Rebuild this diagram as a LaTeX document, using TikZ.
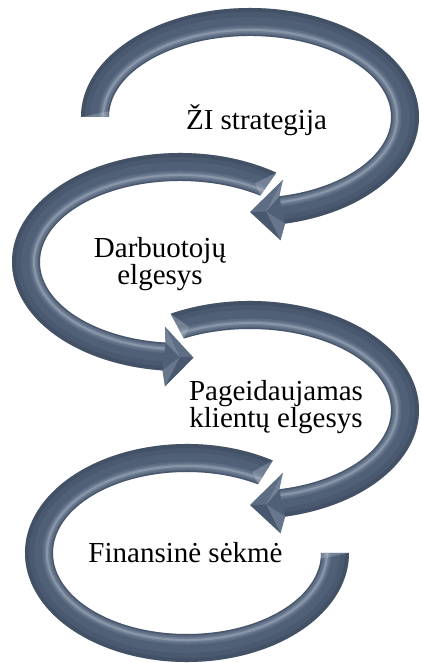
\documentclass[tikz,border=0pt]{standalone}
\usepackage{fontspec}
\setmainfont{Liberation Serif}
\definecolor{slatebody}{RGB}{80,96,119}
\definecolor{slaterim}{RGB}{48,59,76}
\definecolor{slateshine}{RGB}{196,208,222}
\tikzset{
  body/.style={fill=slatebody},
  rim/.style={draw=slaterim},
  shine/.style={draw=slateshine},
  lbl/.style={inner sep=0pt, font=\fontsize{29}{27}\selectfont, align=center, text=black},
}
% bevel shading of a ring band: #1 start angle, #2 end angle,
% #3/#4 radii of the band's centre line (band half width 14)
\newcommand\bandshading[4]{%
  \pgfmathsetmacro\ox{#3+14}\pgfmathsetmacro\oy{#4+14}%
  \pgfmathsetmacro\ix{#3-14}\pgfmathsetmacro\iy{#4-14}%
  \pgfmathsetmacro\hx{#3-8}\pgfmathsetmacro\hy{#4-8}%
  \draw[rim, line width=18pt, opacity=.18] (#1:\ox\space and \oy) arc[start angle=#1, end angle=#2, x radius=\ox, y radius=\oy];
  \draw[rim, line width=8pt, opacity=.25] (#1:\ox\space and \oy) arc[start angle=#1, end angle=#2, x radius=\ox, y radius=\oy];
  \draw[shine, line width=9pt, opacity=.12] (#1:\hx\space and \hy) arc[start angle=#1, end angle=#2, x radius=\hx, y radius=\hy];
  \draw[shine, line width=5pt, opacity=.18] (#1:\hx\space and \hy) arc[start angle=#1, end angle=#2, x radius=\hx, y radius=\hy];
  \draw[shine, line width=2pt, opacity=.3] (#1:\hx\space and \hy) arc[start angle=#1, end angle=#2, x radius=\hx, y radius=\hy];
  \draw[rim, line width=3pt, opacity=.25] (#1:\ix\space and \iy) arc[start angle=#1, end angle=#2, x radius=\ix, y radius=\iy];
}
\begin{document}
\begin{tikzpicture}[x=1pt, y=1pt]
\useasboundingbox (0,0) rectangle (422,663);

% ---------- arrow 1: strategy loop, clockwise, head at the bottom
\begin{scope}[shift={(250,546)}]
  \def\shapeA{(180:169 and 109) arc[start angle=180, end angle=-78, x radius=169, y radius=109]
    -- (-80.5:185 and 125) -- (-90:155 and 95) -- (-74.7:125 and 65) -- (-78:141 and 81)
    arc[start angle=-78, end angle=180, x radius=141, y radius=81] -- cycle}
  \begin{scope}
    \clip \shapeA;
    \fill[body] (-200,-140) rectangle (200,140);
    \bandshading{180}{-78}{155}{95}
    \fill[slateshine, opacity=.3] (-74.7:125 and 65) -- (-84:155 and 95) -- (-78:141 and 81) -- cycle;
    \fill[slateshine, opacity=.12] (-74.7:125 and 65) -- (-90:155 and 95) -- (-84:155 and 95) -- cycle;
    \fill[slaterim, opacity=.2] (-80.5:185 and 125) -- (-90:155 and 95) -- (-84:155 and 95) -- cycle;
    \fill[slateshine, opacity=.2] (-80.5:185 and 125) -- (-84:155 and 95) -- (-78:169 and 109) -- cycle;
    \fill[slateshine, opacity=.3] (180:141 and 81) -- (180:169 and 109) -- (176:141 and 81) -- cycle;
  \end{scope}
\end{scope}

% ---------- arrow 2: staff loop, anticlockwise, head at the bottom
\begin{scope}[shift={(180,401)}]
  \def\shapeB{(55:168 and 109) arc[start angle=55, end angle=264, x radius=168, y radius=109]
    -- (265.3:184 and 125) -- (275:155 and 96) -- (263:124 and 65) -- (264:140 and 81)
    arc[start angle=264, end angle=55, x radius=140, y radius=81] -- cycle}
  \begin{scope}
    \clip \shapeB;
    \fill[body] (-200,-140) rectangle (200,140);
    \bandshading{55}{264}{154}{95}
    \fill[slateshine, opacity=.3] (263:124 and 65) -- (270:154 and 95) -- (264:140 and 81) -- cycle;
    \fill[slateshine, opacity=.12] (263:124 and 65) -- (275:155 and 96) -- (270:154 and 95) -- cycle;
    \fill[slaterim, opacity=.2] (265.3:184 and 125) -- (275:155 and 96) -- (270:154 and 95) -- cycle;
    \fill[slateshine, opacity=.2] (265.3:184 and 125) -- (270:154 and 95) -- (264:168 and 109) -- cycle;
    \fill[slateshine, opacity=.3] (55:168 and 109) -- (55:140 and 81) -- (60:150 and 91) -- cycle;
  \end{scope}
\end{scope}

% ---------- arrow 3: customer loop, clockwise, head at the bottom
\begin{scope}[shift={(250,253)}]
  \def\shapeC{(118:169 and 109) arc[start angle=118, end angle=-78, x radius=169, y radius=109]
    -- (-80.5:185 and 125) -- (-90:155 and 95) -- (-74.7:125 and 65) -- (-78:141 and 81)
    arc[start angle=-78, end angle=118, x radius=141, y radius=81] -- cycle}
  \begin{scope}
    \clip \shapeC;
    \fill[body] (-200,-140) rectangle (200,140);
    \bandshading{118}{-78}{155}{95}
    \fill[slateshine, opacity=.3] (-74.7:125 and 65) -- (-84:155 and 95) -- (-78:141 and 81) -- cycle;
    \fill[slateshine, opacity=.12] (-74.7:125 and 65) -- (-90:155 and 95) -- (-84:155 and 95) -- cycle;
    \fill[slaterim, opacity=.2] (-80.5:185 and 125) -- (-90:155 and 95) -- (-84:155 and 95) -- cycle;
    \fill[slateshine, opacity=.2] (-80.5:185 and 125) -- (-84:155 and 95) -- (-78:169 and 109) -- cycle;
    \fill[slateshine, opacity=.3] (118:169 and 109) -- (118:141 and 81) -- (114:150 and 91) -- cycle;
  \end{scope}
\end{scope}

% ---------- arrow 4: closing loop, anticlockwise, flat end on the right
\begin{scope}[shift={(187,110)}]
  \def\shapeD{(58:162 and 109) arc[start angle=58, end angle=360, x radius=162, y radius=109]
    -- (360:134 and 81) arc[start angle=360, end angle=58, x radius=134, y radius=81] -- cycle}
  \begin{scope}
    \clip \shapeD;
    \fill[body] (-200,-140) rectangle (200,140);
    \bandshading{58}{360}{148}{95}
    \fill[slateshine, opacity=.3] (58:162 and 109) -- (58:134 and 81) -- (63:144 and 91) -- cycle;
    \fill[slateshine, opacity=.3] (360:134 and 81) -- (360:162 and 109) -- (356:134 and 81) -- cycle;
  \end{scope}
\end{scope}

% ---------- labels (multi-line labels are placed by their last baseline)
\node[lbl, anchor=base] (strategy) at (256.5,533) {ŽI strategija};
\node[lbl, anchor=base] (staff) at (160,378) {Darbuotojų\\elgesys};
\node[lbl, anchor=base] (customers) at (276,235) {Pageidaujamas\\klientų elgesys};
\node[lbl, anchor=base] (finance) at (185.5,100) {Finansinė sėkmė};
\end{tikzpicture}
\end{document}
